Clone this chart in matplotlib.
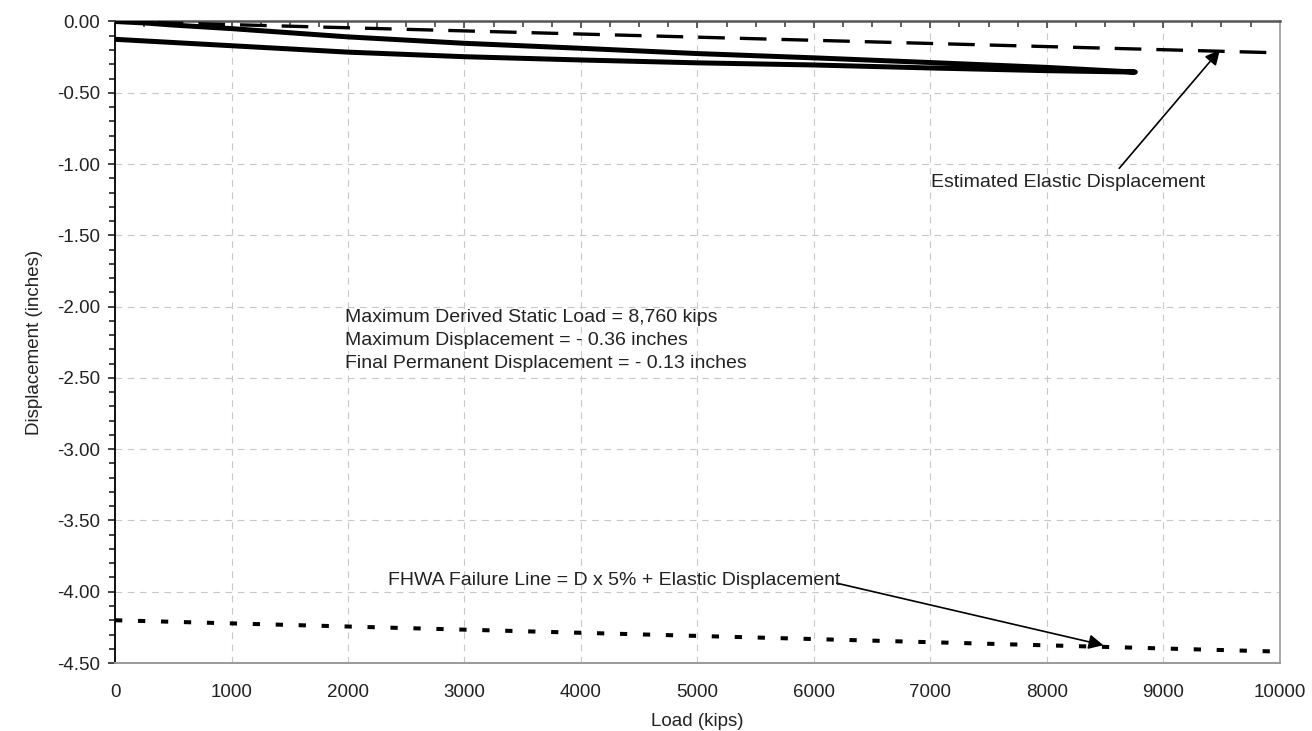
import numpy as np
import matplotlib.pyplot as plt
from matplotlib.ticker import MultipleLocator, FormatStrFormatter

# Load-displacement data
load_up = [0, 250, 500, 1000, 2000, 3000, 4000, 5000, 6000, 7000, 8000, 8760]
disp_up = [0, -0.01, -0.025, -0.05, -0.108, -0.153, -0.188, -0.225, -0.255, -0.288, -0.322, -0.355]
load_down = [8760, 8000, 7000, 6000, 5000, 4000, 3000, 2000, 1000, 0]
disp_down = [-0.355, -0.345, -0.326, -0.305, -0.29, -0.27, -0.247, -0.215, -0.17, -0.125]

# Elastic and FHWA failure lines (end points)
elastic_load = [0, 10000]
elastic_disp = [0.0, -0.22]
fhwa_load = [0, 10000]
fhwa_disp = [-4.20, -4.42]

x_ticks = np.arange(0, 10001, 1000)
y_ticks = np.arange(0, -4.51, -0.5)

plt.rcParams['font.family'] = ['Liberation Sans', 'DejaVu Sans']

fig = plt.figure(figsize=(13.12, 7.31), dpi=100)
ax = fig.add_axes([0.0877, 0.093, 0.8877, 0.8776])

# Hysteresis curve: loading then unloading
ax.plot(load_up + load_down, disp_up + disp_down, color='black', lw=3.6,
        solid_capstyle='round', solid_joinstyle='round', zorder=3)
ax.plot(elastic_load, elastic_disp, color='black', lw=2.4,
        linestyle=(0, (8, 4.5)), dash_capstyle='butt', zorder=3)
ax.plot(fhwa_load, fhwa_disp, color='black', lw=2.9,
        linestyle=(0, (1.8, 3.9)), dash_capstyle='butt', zorder=3)

ax.set_xlim(0, 10000)
ax.set_ylim(-4.5, 0)
ax.set_xticks(x_ticks)
ax.set_yticks(y_ticks)
ax.yaxis.set_major_formatter(FormatStrFormatter('%.2f'))
ax.yaxis.set_minor_locator(MultipleLocator(0.1))
ax.xaxis.set_minor_locator(MultipleLocator(250))

ax.grid(True, which='major', color='#c8c8c8', lw=0.8, linestyle=(0, (6, 5)))
ax.set_axisbelow(True)

ax.tick_params(axis='x', which='both', bottom=False, top=True, direction='in',
               labelsize=13.5, labelcolor='#222222', pad=15)
ax.tick_params(axis='x', which='major', length=5, width=1.2, color='#444444')
ax.tick_params(axis='x', which='minor', length=4, width=1.2, color='#444444')
ax.tick_params(axis='y', which='both', direction='out', labelsize=13.5,
               labelcolor='#222222', color='#222222')
ax.tick_params(axis='y', which='major', length=5, width=1.2, pad=6)
ax.tick_params(axis='y', which='minor', length=4, width=1.2)

ax.spines['left'].set_color('#111111')
ax.spines['left'].set_linewidth(1.4)
ax.spines['top'].set_color('#555555')
ax.spines['top'].set_linewidth(1.8)
ax.spines['bottom'].set_color('#999999')
ax.spines['bottom'].set_linewidth(1.4)
ax.spines['right'].set_color('#aaaaaa')
ax.spines['right'].set_linewidth(1.4)

ax.set_xlabel('Load (kips)', fontsize=13.5, color='#222222', labelpad=9)
ax.set_ylabel('Displacement (inches)', fontsize=13.5, color='#222222', labelpad=10)

ax.text(1975, -2.24, 'Maximum Derived Static Load = 8,760 kips\n'
        'Maximum Displacement = - 0.36 inches\n'
        'Final Permanent Displacement = - 0.13 inches',
        fontsize=14, color='#222222', ha='left', va='center', linespacing=1.45)

arrow = dict(arrowstyle='-|>', color='black', lw=1.2, mutation_scale=22,
             shrinkA=0, shrinkB=0)
ax.annotate('', xy=(9486, -0.2), xytext=(8622, -1.03), arrowprops=arrow)
ax.text(7005, -1.128, 'Estimated Elastic Displacement', fontsize=14,
        color='#222222', ha='left', va='center')
ax.annotate('', xy=(8486, -4.375), xytext=(6197, -3.94), arrowprops=arrow)
ax.text(2340, -3.92, 'FHWA Failure Line = D x 5% + Elastic Displacement',
        fontsize=14, color='#222222', ha='left', va='center')

fig.savefig('out.png', dpi=100)
